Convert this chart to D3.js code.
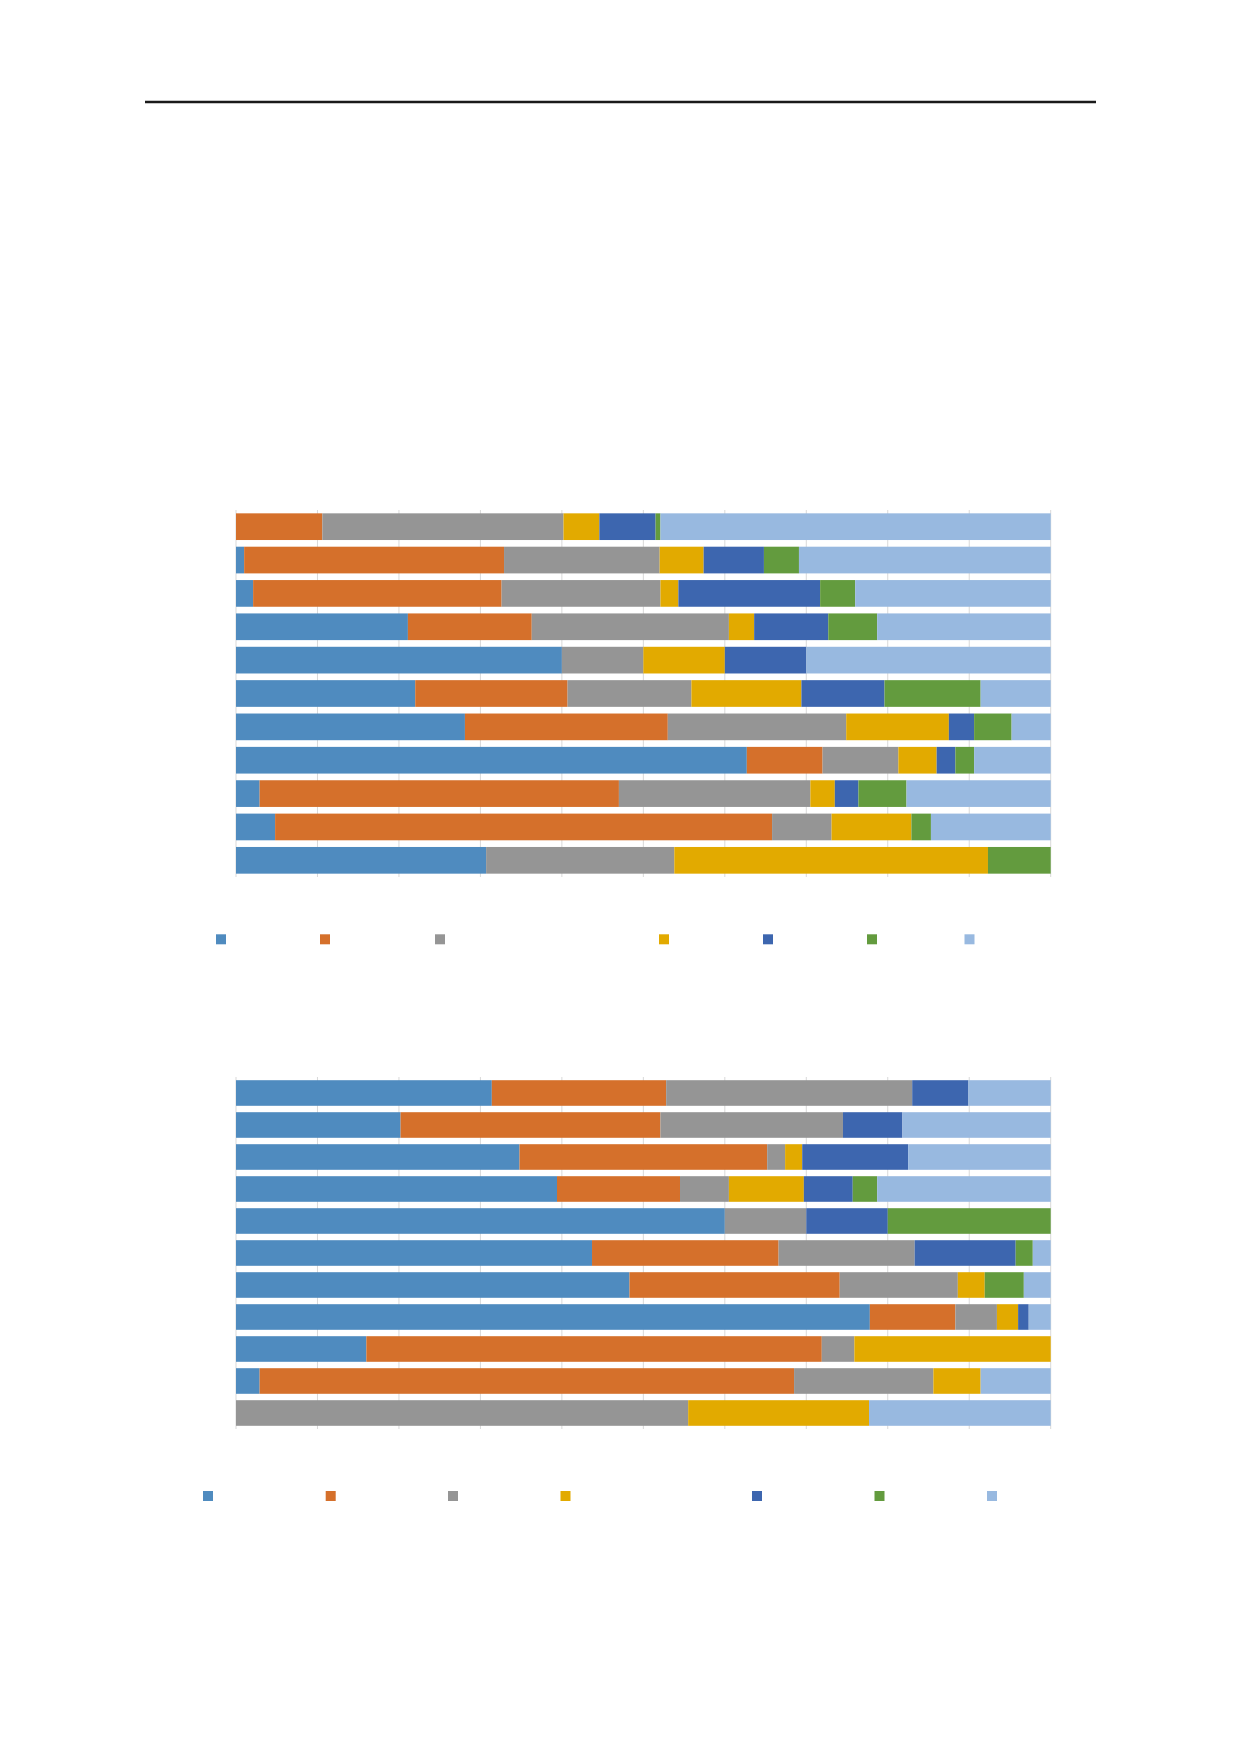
<!DOCTYPE html>
<html>
<head>
<meta charset="utf-8">
<script src="https://cdn.jsdelivr.net/npm/d3@7"></script>
<style>
  html, body { margin: 0; padding: 0; background: #ffffff; }
  svg { display: block; font-family: "Liberation Sans", Arial, sans-serif; }
</style>
</head>
<body>
<svg id="page" width="1240" height="1754"></svg>
<script>
// ---------- DATA ----------
const seriesKeys = ["s1", "s2", "s3", "s4", "s5", "s6", "s7"];
const seriesColors = ["#4F8BBF", "#D5702B", "#959595", "#E2AA00", "#3D66AF", "#639B3E", "#98B9E0"];
const ticks = [0, 10, 20, 30, 40, 50, 60, 70, 80, 90, 100];

// Chart 1 (top), categories listed top to bottom
const categories1 = ["r1", "r2", "r3", "r4", "r5", "r6", "r7", "r8", "r9", "r10", "r11"];
const c1s1 = [0,    1.0,  2.1,  21.1, 40, 22.0, 28.1, 62.7, 2.9,  4.8,  30.7];
const c1s2 = [10.6, 31.9, 30.5, 15.2, 0,  18.7, 24.9, 9.3,  44.1, 61.0, 0];
const c1s3 = [29.6, 19.1, 19.5, 24.2, 10, 15.2, 21.9, 9.3,  23.5, 7.3,  23.1];
const c1s4 = [4.4,  5.4,  2.2,  3.1,  10, 13.5, 12.6, 4.7,  3.0,  9.8,  38.5];
const c1s5 = [6.9,  7.4,  17.4, 9.1,  10, 10.2, 3.1,  2.3,  2.9,  0,    0];
const c1s6 = [0.6,  4.3,  4.3,  6.0,  0,  11.8, 4.6,  2.3,  5.9,  2.4,  7.7];
const c1s7 = [47.9, 30.9, 24.0, 21.3, 30, 8.6,  4.8,  9.4,  17.7, 14.7, 0];

// Chart 2 (bottom), categories listed top to bottom
const categories2 = ["q1", "q2", "q3", "q4", "q5", "q6", "q7", "q8", "q9", "q10", "q11"];
const c2s1 = [31.4, 20.2, 34.8, 39.4, 60, 43.7, 48.3, 77.8, 16.0, 2.9,  0];
const c2s2 = [21.4, 31.9, 30.4, 15.1, 0,  22.9, 25.8, 10.5, 55.9, 65.6, 0];
const c2s3 = [30.2, 22.4, 2.2,  6.0,  10, 16.7, 14.5, 5.1,  4.0,  17.1, 55.5];
const c2s4 = [0,    0,    2.1,  9.2,  0,  0,    3.3,  2.6,  24.1, 5.8,  22.2];
const c2s5 = [6.9,  7.3,  13.0, 6.0,  10, 12.4, 0,    1.3,  0,    0,    0];
const c2s6 = [0,    0,    0,    3.0,  20, 2.1,  4.8,  0,    0,    0,    0];
const c2s7 = [10.1, 18.2, 17.5, 21.3, 0,  2.2,  3.3,  2.7,  0,    8.6,  22.3];

// ---------- LAYOUT ----------
const svg = d3.select("#page");
svg.append("rect").attr("width", 1240).attr("height", 1754).attr("fill", "#ffffff");

// header rule
svg.append("line")
  .attr("x1", 145).attr("x2", 1096).attr("y1", 102).attr("y2", 102)
  .attr("stroke", "#1a1a1a").attr("stroke-width", 2.6);

function buildRows(categories, cols) {
  return categories.map((c, i) => {
    const row = { cat: c };
    seriesKeys.forEach((k, j) => { row[k] = cols[j][i]; });
    return row;
  });
}

function drawChart(cfg) {
  const rows = buildRows(cfg.categories, cfg.cols);
  const stack = d3.stack().keys(seriesKeys)
    .order(d3.stackOrderNone).offset(d3.stackOffsetExpand);
  const layers = stack(rows);

  const x = d3.scaleLinear().domain([0, 100]).range([cfg.x0, cfg.x1]);
  const xf = d3.scaleLinear().domain([0, 1]).range([cfg.x0, cfg.x1]);
  const y = d3.scaleBand().domain(cfg.categories).range([cfg.y0, cfg.y1])
    .paddingInner(0.2).paddingOuter(0.1);

  const g = svg.append("g");

  // vertical gridlines
  g.append("g").selectAll("line").data(ticks).join("line")
    .attr("x1", d => x(d)).attr("x2", d => x(d))
    .attr("y1", cfg.y0).attr("y2", cfg.y1)
    .attr("stroke", "#d9d9d9").attr("stroke-width", 1);

  // bars
  g.append("g").selectAll("g").data(layers).join("g")
    .attr("fill", (d, i) => seriesColors[i])
    .selectAll("rect").data(d => d).join("rect")
    .attr("x", d => xf(d[0]))
    .attr("width", d => Math.max(0, xf(d[1]) - xf(d[0])))
    .attr("y", d => y(d.data.cat))
    .attr("height", y.bandwidth());

  // legend markers
  const lg = g.append("g");
  lg.selectAll("rect").data(seriesKeys).join("rect")
    .attr("x", (d, i) => cfg.legendX[i] - 5)
    .attr("y", cfg.legendY - 5)
    .attr("width", 10).attr("height", 10)
    .attr("fill", (d, i) => seriesColors[i]);
}

drawChart({
  categories: categories1,
  cols: [c1s1, c1s2, c1s3, c1s4, c1s5, c1s6, c1s7],
  x0: 236, x1: 1050.7, y0: 510, y1: 877,
  legendX: [221, 325, 440, 664, 768, 872, 969.5],
  legendY: 939.3
});

drawChart({
  categories: categories2,
  cols: [c2s1, c2s2, c2s3, c2s4, c2s5, c2s6, c2s7],
  x0: 236, x1: 1050.7, y0: 1077, y1: 1429,
  legendX: [208, 330.7, 453, 565.5, 757, 879.5, 992],
  legendY: 1496
});
</script>
</body>
</html>
